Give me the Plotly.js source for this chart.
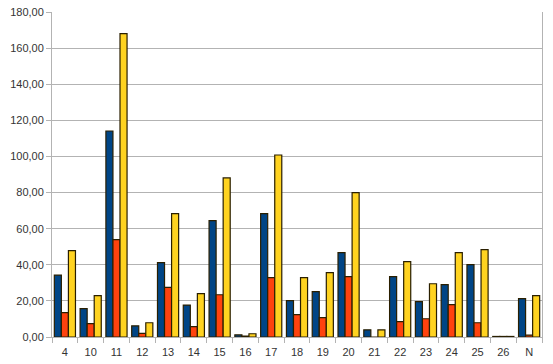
<!DOCTYPE html>
<html><head><meta charset="utf-8">
<script src="https://cdn.plot.ly/plotly-3.0.1.min.js"></script>
<style>html,body{margin:0;padding:0;background:#fff;}#chart{width:553px;height:364px;}</style>
</head><body><div id="chart"></div>
<script>
const categories = ["4","10","11","12","13","14","15","16","17","18","19","20","21","22","23","24","25","26","N"];
const seriesBlue   = [34.3,15.7,114.1,6.2,41.2,17.7,64.4,1.2,68.3,20.1,25.1,46.7,4.0,33.4,19.6,29.0,40.1,0.3,21.2];
const seriesRed    = [13.5,7.4,53.9,2.0,27.5,5.7,23.4,0.5,32.9,12.4,10.7,33.4,0,8.5,10.1,17.9,7.9,0.3,1.0];
const seriesYellow = [47.8,22.9,168.0,7.9,68.3,24.0,88.1,1.8,100.8,32.9,35.6,80.0,4.0,41.7,29.5,46.7,48.4,0.3,22.9];
const colors = ["#004586","#ff420e","#ffd320"];
const series = [seriesBlue, seriesRed, seriesYellow];
const traces = series.map((s,i)=>({
  type:"bar", x:categories, y:s,
  marker:{color:colors[i], line:{color:"#2a1f00", width:1.2}},
  hoverinfo:"none"
}));
const layout = {
  width:553, height:364,
  margin:{l:52, r:11, t:12, b:27, pad:0},
  paper_bgcolor:"#fff", plot_bgcolor:"#fff",
  showlegend:false, barmode:"group", bargap:0.18, bargroupgap:0,
  separators:",.",
  font:{family:"Liberation Sans, Arial, sans-serif", size:11, color:"#333"},
  xaxis:{type:"category", showgrid:false, showline:true, linecolor:"#b3b3b3", linewidth:1,
         ticks:"outside", tickson:"boundaries", ticklen:5, tickcolor:"#b3b3b3",
         ticklabelstandoff:5,
         tickfont:{size:11, color:"#333"}, mirror:false},
  yaxis:{range:[0,180], dtick:20, tickformat:".2f", showgrid:true, gridcolor:"#b3b3b3", gridwidth:1,
         showline:true, linecolor:"#b3b3b3", linewidth:1, mirror:true,
         ticks:"outside", ticklen:5, tickcolor:"#b3b3b3", zeroline:false,
         tickfont:{size:11, color:"#333"}}
};
Plotly.newPlot("chart", traces, layout, {displayModeBar:false, staticPlot:true});
</script></body></html>
